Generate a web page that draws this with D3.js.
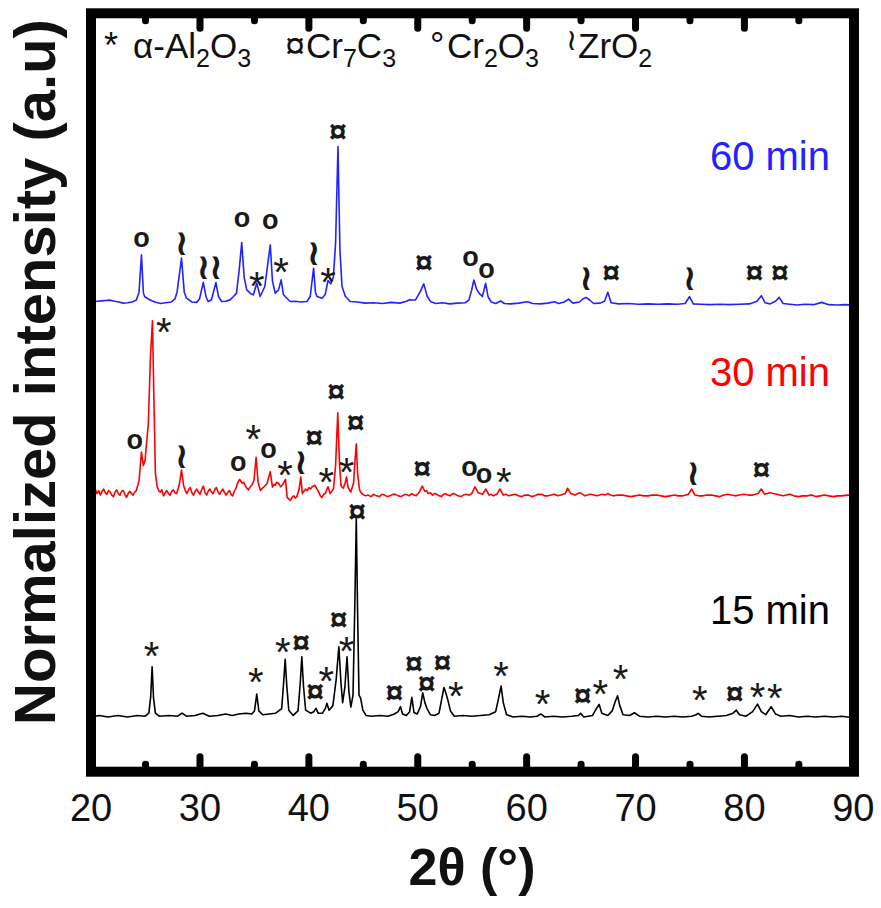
<!DOCTYPE html>
<html>
<head>
<meta charset="utf-8">
<script src="https://cdn.jsdelivr.net/npm/d3@7"></script>
<style>
  body { margin: 0; background: #fff; }
  svg { display: block; }
</style>
</head>
<body>
<svg id="chart" width="881" height="908"></svg>
<script>
// ---- axis ticks ----
const xMajorTicks = [20, 30, 40, 50, 60, 70, 80, 90];
const xMinorTicks = [25, 35, 45, 55, 65, 75, 85];

// ---- series (stacked from bottom to top) ----
const seriesNames = ["15 min", "30 min", "60 min"];
const seriesColors = ["#000000", "#ff0000", "#2222ff"];
const seriesOffsets = [6.65, 36.5, 61.44];

// [2θ, intensity above own baseline]
const pattern15 = [
  [20,0.1],[20.8,0.3],[21.6,0.1],[22.5,0.3],[23.4,0.1],[24.3,0.3],[25.0,0.2],
  [25.35,0.6],[25.52,2.8],[25.65,6.75],[25.78,2.6],[25.95,0.6],[26.3,0.2],
  [27.2,0.3],[28.0,0.2],[28.4,0.6],[28.8,0.2],[29.6,0.3],[30.3,0.6],[30.9,0.2],
  [31.7,0.3],[32.4,0.5],[33.0,0.3],[33.6,0.5],[34.3,0.6],[34.8,0.5],
  [35.05,0.9],[35.26,3.13],[35.45,0.9],[35.8,0.4],[36.4,0.5],[37.0,0.6],
  [37.55,1.2],[37.72,4.5],[37.87,7.72],[38.02,4.2],[38.2,1.0],[38.6,0.3],
  [39.05,0.9],[39.25,4.5],[39.4,8.07],[39.55,4.2],[39.75,1.0],[40.2,0.6],
  [40.5,0.8],[40.7,1.24],[40.9,0.6],[41.3,0.6],[41.55,1.2],[41.7,1.9],[41.9,1.0],
  [42.25,1.6],[42.55,5.0],[42.8,9.39],[43.0,4.5],[43.15,2.0],[43.35,4.0],
  [43.55,8.07],[43.72,3.5],[43.9,1.4],[44.1,3.0],[44.28,16.0],[44.4,26.3],
  [44.52,14.0],[44.65,3.0],[44.8,2.6],[45.0,1.0],[45.3,0.3],
  [45.8,0.2],[46.6,0.3],[47.3,0.2],[47.9,0.5],[48.25,0.8],[48.46,1.46],[48.65,0.5],
  [49.0,0.3],[49.3,0.8],[49.5,2.7],[49.7,0.7],[50.0,0.5],[50.3,1.5],[50.5,3.3],
  [50.7,2.0],[50.9,1.2],[51.2,0.4],[51.6,0.3],[52.0,0.6],[52.25,2.5],[52.45,4.0],
  [52.6,3.4],[52.8,2.4],[53.05,0.9],[53.4,0.2],[54.2,0.3],[55.0,0.2],[55.8,0.3],
  [56.6,0.4],[57.2,0.8],[57.5,2.8],[57.7,4.2],[57.9,2.0],[58.2,0.4],[58.8,0.1],
  [59.6,0.2],[60.4,0.1],[61.0,0.2],[61.35,0.5],[61.7,0.1],[62.5,0.2],[63.3,0.1],
  [64.2,0.2],[64.8,0.3],[65.0,0.58],[65.3,0.1],[66.1,0.3],[66.45,1.2],[66.7,1.77],
  [66.95,0.6],[67.5,0.3],[67.9,0.9],[68.2,2.2],[68.4,2.9],[68.6,1.6],[68.9,0.4],
  [69.5,0.3],[69.95,0.66],[70.4,0.2],[71.2,0.1],[72.0,0.2],[72.8,0.1],[73.6,0.2],
  [74.4,0.1],[75.2,0.2],[75.6,0.4],[75.8,0.58],[76.1,0.2],[76.8,0.1],[77.6,0.2],
  [78.4,0.3],[79.0,0.6],[79.3,1.0],[79.6,0.4],[80.2,0.2],[80.8,0.8],[81.25,1.8],
  [81.6,0.8],[82.0,0.4],[82.5,1.45],[82.9,0.5],[83.4,0.2],[84.2,0.3],[85.0,0.1],
  [85.8,0.2],[86.6,0.1],[87.4,0.2],[88.2,0.1],[89.0,0.2],[90,0.0]
];

const pattern30 = [
  [20,0.0],[20.15,-0.5],[20.3,-0.1],[20.45,0.3],[20.6,-0.2],[20.75,0.2],[20.9,-0.4],
  [21.05,0.1],[21.2,0.4],[21.35,-0.1],[21.5,-0.3],[21.65,0.2],[21.8,0.0],[21.95,-0.4],
  [22.1,-0.6],[22.25,0.0],[22.4,0.3],[22.55,-0.2],[22.7,-0.4],[22.85,0.1],[23.0,0.2],
  [23.15,-0.3],[23.3,-0.7],[23.45,-0.2],[23.6,0.1],[23.75,-0.2],[23.9,-0.4],[24.05,0.0],
  [24.2,0.2],[24.45,1.5],[24.67,5.3],[24.85,3.5],[25.0,4.2],[25.3,9.0],[25.5,18.0],
  [25.68,22.66],[25.82,12.0],[25.95,2.5],[26.1,0.8],[26.25,0.2],[26.4,0.0],[26.55,0.3],
  [26.7,-0.5],[26.85,-0.1],[27.0,0.2],[27.15,-0.2],[27.3,-0.4],[27.45,0.1],[27.6,0.3],
  [27.75,-0.1],[27.9,-0.2],[28.15,1.0],[28.35,2.9],[28.55,0.8],[28.7,0.2],
  [28.85,-0.2],[29.0,0.3],[29.15,0.6],[29.3,-0.1],[29.45,-0.4],[29.6,0.1],[29.75,0.4],
  [29.9,0.0],[30.05,-0.3],[30.2,0.3],[30.35,0.8],[30.5,0.0],[30.65,-0.4],[30.8,0.1],
  [30.95,0.4],[31.1,0.0],[31.25,-0.2],[31.4,0.3],[31.55,0.6],[31.7,0.0],[31.85,-0.3],
  [32.0,0.1],[32.15,0.4],[32.3,-0.1],[32.45,-0.4],[32.6,0.0],[32.75,0.2],[32.9,-0.3],
  [33.05,-0.5],[33.2,0.1],[33.35,0.5],[33.5,1.2],[33.7,1.68],[33.9,1.2],[34.05,1.3],
  [34.2,0.9],[34.35,0.5],[34.5,0.3],[34.65,0.7],[34.8,0.9],[35.0,1.5],[35.2,4.6],
  [35.38,1.3],[35.6,0.2],[35.75,0.5],[35.9,0.66],[36.05,0.9],[36.2,1.1],[36.5,2.7],
  [36.7,0.66],[36.85,1.0],[36.95,0.9],[37.1,1.3],[37.3,1.1],[37.45,0.7],[37.6,0.9],
  [37.9,1.68],[38.05,-0.7],[38.2,-0.9],[38.35,-1.1],[38.5,-0.7],[38.65,-0.5],
  [38.8,-0.8],[38.95,-0.6],[39.15,0.4],[39.3,2.0],[39.45,-0.2],[39.6,0.1],[39.75,0.4],
  [39.9,0.2],[40.05,0.6],[40.2,0.4],[40.35,0.7],[40.6,0.9],[40.8,0.4],[40.95,0.0],
  [41.1,-0.5],[41.25,-0.7],[41.4,-0.3],[41.55,-0.2],[41.8,0.7],[42.0,-0.2],[42.15,0.1],
  [42.3,0.4],[42.5,3.5],[42.7,10.5],[42.85,4.0],[43.0,0.8],[43.2,0.5],[43.38,1.2],
  [43.5,2.0],[43.65,0.6],[43.9,0.0],[44.15,1.2],[44.3,4.5],[44.4,6.35],[44.52,2.5],
  [44.7,0.3],[44.85,-0.1],[45.0,-0.3],[45.25,-0.5],[45.5,-0.4],[45.75,-0.6],[46.0,-0.3],
  [46.25,-0.5],[46.5,-0.6],[46.75,-0.3],[47.0,-0.4],[47.25,-0.6],[47.5,-0.5],
  [47.75,-0.3],[48.0,-0.3],[48.25,-0.5],[48.5,-0.6],[48.75,-0.4],[49.0,-0.3],
  [49.25,-0.5],[49.5,-0.2],[49.7,-0.4],[49.9,-0.5],[50.2,0.0],[50.45,0.8],[50.7,0.1],
  [50.85,0.2],[51.0,-0.2],[51.2,-0.1],[51.4,-0.4],[51.6,-0.2],[51.8,-0.3],[52.0,-0.5],
  [52.2,-0.6],[52.4,-0.3],[52.6,-0.2],[52.8,-0.4],[53.0,-0.5],[53.25,-0.2],[53.5,-0.3],
  [53.75,-0.5],[54.0,-0.6],[54.25,-0.4],[54.5,-0.3],[54.75,-0.4],[55.0,-0.2],
  [55.3,0.7],[55.6,-0.1],[55.8,-0.2],[56.0,-0.3],[56.3,0.4],[56.6,-0.4],[56.8,-0.3],
  [57.0,-0.5],[57.3,-0.3],[57.6,0.4],[57.9,-0.4],[58.15,-0.3],[58.4,-0.5],[58.7,-0.4],
  [59.0,-0.3],[59.3,-0.5],[59.6,-0.6],[59.9,-0.4],[60.2,-0.4],[60.5,-0.6],[60.8,-0.5],
  [61.1,-0.3],[61.4,-0.3],[61.7,-0.5],[62.0,-0.5],[62.3,-0.4],[62.6,-0.3],[62.9,-0.5],
  [63.2,-0.4],[63.6,-0.2],[63.8,0.5],[64.1,-0.2],[64.3,-0.3],[64.5,-0.4],[64.75,-0.2],
  [65.0,-0.1],[65.2,-0.3],[65.4,-0.5],[65.65,-0.4],[65.9,-0.3],[66.2,-0.4],[66.5,-0.5],
  [66.75,-0.4],[67.0,-0.3],[67.25,-0.4],[67.5,-0.2],[67.75,-0.4],[68.0,-0.5],
  [68.4,-0.4],[68.8,-0.4],[69.2,-0.5],[69.6,-0.6],[70.0,-0.5],[70.4,-0.4],[70.8,-0.5],
  [71.2,-0.5],[71.6,-0.4],[72.0,-0.4],[72.4,-0.5],[72.8,-0.6],[73.2,-0.5],[73.6,-0.4],
  [74.0,-0.5],[74.4,-0.5],[74.9,-0.3],[75.2,0.4],[75.5,-0.4],[75.85,-0.5],[76.2,-0.5],
  [76.6,-0.4],[77.0,-0.4],[77.4,-0.5],[77.8,-0.6],[78.15,-0.4],[78.5,-0.3],[78.85,-0.4],
  [79.2,-0.5],[79.6,-0.4],[80.0,-0.3],[80.4,-0.4],[80.8,-0.4],[81.3,-0.2],[81.6,0.4],
  [81.9,-0.3],[82.15,-0.2],[82.4,-0.1],[82.7,-0.2],[83.0,-0.3],[83.3,-0.4],[83.6,-0.5],
  [83.9,-0.4],[84.2,-0.3],[84.6,-0.5],[85.0,-0.6],[85.4,-0.5],[85.8,-0.5],[86.2,-0.4],
  [86.6,-0.6],[87.0,-0.5],[87.4,-0.4],[87.8,-0.5],[88.2,-0.6],[88.6,-0.5],[89.0,-0.5],
  [89.5,-0.4],[90,-0.4]
];

const pattern60 = [
  [20.0,0.2],[20.1,0.6],[20.25,0.2],[20.6,0.3],[21.0,0.35],[21.4,0.4],[21.75,0.45],
  [22.2,0.3],[22.6,0.2],[22.98,0.05],[23.4,0.1],[23.8,0.2],[24.2,0.45],[24.45,1.5],
  [24.67,6.43],[24.85,1.4],[24.97,0.9],[25.43,0.5],[25.9,0.2],[26.4,0.0],[26.9,0.1],
  [27.4,0.2],[27.75,0.6],[27.95,1.6],[28.35,6.0],[28.6,1.5],[28.81,0.7],[29.3,0.2],
  [29.73,0.15],[30.0,0.6],[30.35,2.8],[30.6,0.9],[30.8,0.26],[31.1,0.5],[31.51,2.78],
  [31.75,0.9],[32.03,0.26],[32.4,0.3],[32.8,0.48],[33.1,0.9],[33.4,1.37],[33.65,4.5],
  [33.88,8.06],[34.1,3.5],[34.34,1.8],[34.7,1.3],[34.95,1.15],[35.26,2.69],[35.57,0.93],
  [36.0,2.25],[36.25,5.0],[36.5,7.75],[36.7,3.0],[36.95,1.37],[37.26,1.8],[37.5,3.13],
  [37.7,1.2],[37.87,0.93],[38.33,0.26],[38.8,0.3],[39.3,0.2],[39.86,0.26],[40.17,0.93],
  [40.48,4.67],[40.65,1.5],[40.79,0.93],[41.25,0.7],[41.55,1.2],[41.8,3.04],[42.05,2.6],
  [42.3,3.5],[42.5,8.0],[42.72,20.75],[42.9,7.0],[43.09,2.25],[43.4,0.93],[43.86,0.26],
  [44.5,0.2],[45.2,0.05],[46.0,0.1],[46.8,0.0],[47.6,0.15],[48.4,0.05],[49.0,0.3],
  [49.3,0.5],[49.53,0.46],[49.84,0.48],[50.25,1.5],[50.6,2.6],[50.9,1.0],[51.22,0.26],
  [51.7,0.0],[52.3,0.1],[53.0,-0.05],[53.7,0.05],[54.4,0.1],[54.75,0.48],[55.0,1.8],
  [55.2,3.11],[55.45,1.9],[55.67,1.37],[55.98,0.93],[56.28,2.67],[56.5,0.9],[56.8,0.2],
  [57.2,0.0],[57.66,0.33],[58.0,0.0],[58.6,-0.05],[59.3,0.05],[60.12,0.24],[60.6,0.0],
  [61.3,-0.05],[62.0,0.05],[62.58,0.24],[63.0,0.0],[63.5,0.2],[63.9,0.59],[64.3,0.05],
  [64.9,0.2],[65.2,0.6],[65.5,0.81],[65.8,0.5],[66.2,0.0],[66.8,0.05],[67.2,0.3],
  [67.5,1.48],[67.8,0.1],[68.5,-0.05],[69.4,0.0],[70.3,-0.1],[71.2,-0.05],[72.1,-0.1],
  [73.0,-0.05],[73.9,-0.1],[74.6,0.0],[75.0,0.9],[75.35,-0.05],[76.0,-0.1],[76.9,-0.15],
  [77.8,-0.1],[78.7,-0.15],[79.6,-0.1],[80.5,-0.05],[81.2,0.3],[81.6,1.03],[81.95,0.1],
  [82.4,-0.05],[82.9,0.3],[83.24,0.81],[83.6,0.0],[84.2,-0.1],[84.9,-0.2],[85.6,-0.1],
  [86.4,-0.15],[87.14,0.15],[87.8,-0.15],[88.6,-0.2],[89.3,-0.15],[90.0,-0.2]
];

// ---- phase markers: [2θ, phase, height of marker above own baseline] ----
// A = α-Al2O3, C = Cr7C3, O = Cr2O3, Z = ZrO2
const phases15 = [
  [25.59,"A",9.4],[35.17,"A",5.95],[37.66,"A",9.84],[39.34,"C",10.05],[40.63,"C",3.66],
  [41.65,"A",6.08],[42.78,"C",13.1],[43.5,"A",10.05],[44.47,"C",27.4],[47.91,"C",3.44],
  [49.69,"C",7.3],[50.86,"C",4.6],[52.3,"C",7.4],[53.53,"A",4.1],[57.7,"A",6.75],
  [61.51,"A",3.0],[65.2,"C",3.13],[66.82,"A",4.3],[68.66,"A",6.3],[75.94,"A",3.57],
  [79.16,"C",3.3],[81.25,"A",3.9],[82.84,"A",3.76]
];
const phases30 = [
  [24.05,"O",6.65],[26.72,"A",22.3],[28.35,"Z",4.9],[33.55,"O",3.66],[34.95,"A",8.2],
  [36.33,"O",5.46],[37.85,"A",3.48],[39.3,"Z",4.1],[40.54,"C",7.3],[41.65,"A",2.47],
  [42.54,"C",13.4],[43.5,"A",3.9],[44.35,"C",9.3],[50.45,"C",3.3],[54.8,"O",3.1],
  [56.13,"O",2.1],[57.95,"A",2.5],[75.33,"Z",2.7],[81.6,"C",3.1]
];
const phases60 = [
  [24.67,"O",8.4],[28.35,"Z",8.1],[30.35,"Z",5.0],[31.5,"Z",5.0],[33.9,"O",11.0],
  [35.26,"A",3.5],[36.5,"O",10.8],[37.5,"A",5.3],[40.48,"Z",6.85],[41.8,"A",4.0],
  [42.72,"C",22.9],[50.6,"C",5.6],[54.9,"O",5.9],[56.35,"O",4.3],[65.5,"Z",3.5],
  [67.8,"C",4.2],[75.0,"Z",3.5],[80.97,"C",4.2],[83.3,"C",4.2]
];

const patterns = [pattern15, pattern30, pattern60];
const phaseMarks = [phases15, phases30, phases60];

// glyph for each phase and how it is set
const phaseGlyph = {
  A: { ch: "*", size: 40, weight: "normal", family: "Liberation Sans, Arial, sans-serif", lift: 0.575 },
  C: { ch: "\u00A4", size: 32, weight: "bold", family: "Liberation Sans, Arial, sans-serif", lift: 0.36 },
  O: { ch: "o", size: 27, weight: "bold", family: "Liberation Sans, Arial, sans-serif", lift: 0.26 },
  Z: { ch: "\u2240", size: 36, weight: "bold", family: "DejaVu Sans, sans-serif", lift: 0.36 }
};

// ---- layout ----
const svg = d3.select("#chart");
const frame = { left: 91, right: 854, top: 13.3, bottom: 771.7 };

const x = d3.scaleLinear().domain([20, 90]).range([90.6, 852.8]);
const y = d3.scaleLinear().domain([0, 100]).range([768, 12]);

// diffraction traces
const line = d3.line()
  .x(d => x(d[0]))
  .y(d => y(d[1]));

patterns.forEach((pts, i) => {
  svg.append("path")
    .datum(pts.map(p => [p[0], p[1] + seriesOffsets[i]]))
    .attr("fill", "none")
    .attr("stroke", seriesColors[i])
    .attr("stroke-width", 1.6)
    .attr("stroke-linejoin", "round")
    .attr("d", line);
});

// phase markers above peaks
phaseMarks.forEach((marks, i) => {
  svg.append("g").selectAll("text")
    .data(marks)
    .join("text")
    .attr("x", d => x(d[0]))
    .attr("y", d => y(d[2] + seriesOffsets[i]) + phaseGlyph[d[1]].lift * phaseGlyph[d[1]].size)
    .attr("text-anchor", "middle")
    .attr("font-family", d => phaseGlyph[d[1]].family)
    .attr("font-size", d => phaseGlyph[d[1]].size)
    .attr("font-weight", d => phaseGlyph[d[1]].weight)
    .attr("fill", "#1a1a1a")
    .text(d => phaseGlyph[d[1]].ch);
});

// series labels
const labelBaselines = [624, 386, 170];
seriesNames.forEach((name, i) => {
  svg.append("text")
    .attr("x", 830)
    .attr("y", labelBaselines[i])
    .attr("text-anchor", "end")
    .attr("font-family", "Liberation Sans, Arial, sans-serif")
    .attr("font-size", 40)
    .attr("fill", seriesColors[i])
    .text(name);
});

// frame
svg.append("rect")
  .attr("x", frame.left).attr("y", frame.top)
  .attr("width", frame.right - frame.left)
  .attr("height", frame.bottom - frame.top)
  .attr("fill", "none")
  .attr("stroke", "#000")
  .attr("stroke-width", 10);

// ticks, bottom and top, pointing inward
function styleTicks(g) {
  g.select(".domain").remove();
  g.selectAll(".tick line")
    .attr("stroke", "#000")
    .attr("stroke-width", 7)
    .attr("stroke-linecap", "round");
}

const bottomAxis = svg.append("g")
  .attr("transform", `translate(0,${frame.bottom})`)
  .call(d3.axisBottom(x).tickValues(xMajorTicks).tickSizeInner(-15).tickSizeOuter(0).tickPadding(22))
  .call(styleTicks);
bottomAxis.selectAll(".tick text")
  .attr("font-family", "Liberation Sans, Arial, sans-serif")
  .attr("font-size", 38)
  .attr("fill", "#111");
// end ticks sit under the frame sides
bottomAxis.selectAll(".tick").filter(d => d === 20 || d === 90).select("line").remove();

svg.append("g")
  .attr("transform", `translate(0,${frame.bottom})`)
  .call(d3.axisBottom(x).tickValues(xMinorTicks).tickSizeInner(-7.5).tickSizeOuter(0).tickFormat(""))
  .call(styleTicks);

const topAxis = svg.append("g")
  .attr("transform", `translate(0,${frame.top})`)
  .call(d3.axisTop(x).tickValues(xMajorTicks).tickSizeInner(-15).tickSizeOuter(0).tickFormat(""))
  .call(styleTicks);
topAxis.selectAll(".tick").filter(d => d === 20 || d === 90).select("line").remove();

svg.append("g")
  .attr("transform", `translate(0,${frame.top})`)
  .call(d3.axisTop(x).tickValues(xMinorTicks).tickSizeInner(-7.5).tickSizeOuter(0).tickFormat(""))
  .call(styleTicks);

// axis titles
svg.append("text")
  .attr("x", 472).attr("y", 885)
  .attr("text-anchor", "middle")
  .attr("font-family", "Liberation Sans, Arial, sans-serif")
  .attr("font-weight", "bold")
  .attr("font-size", 52)
  .attr("fill", "#111")
  .text("2\u03B8 (\u00B0)");

svg.append("text")
  .attr("transform", "translate(55,372) rotate(-90)")
  .attr("text-anchor", "middle")
  .attr("font-family", "Liberation Sans, Arial, sans-serif")
  .attr("font-weight", "bold")
  .attr("font-size", 58)
  .attr("fill", "#111")
  .text("Normalized intensity (a.u)");

// phase legend: symbol followed by formula, formula parts [text, isSubscript]
const legendEntries = [
  { sym: "*", symX: 104, nameX: 133, name: [["\u03B1-Al",0],["2",1],["O",0],["3",1]] },
  { sym: "\u00A4", symX: 285, nameX: 306, name: [["Cr",0],["7",1],["C",0],["3",1]] },
  { sym: "\u00B0", symX: 430, nameX: 447, name: [["Cr",0],["2",1],["O",0],["3",1]] },
  { sym: "\u2240", symX: 566, nameX: 578, name: [["ZrO",0],["2",1]] }
];
const legendBaseline = 58;
legendEntries.forEach(e => {
  const s = svg.append("text")
    .attr("x", e.symX).attr("y", legendBaseline)
    .attr("font-family", e.sym === "\u2240" ? "DejaVu Sans, sans-serif" : "Liberation Sans, Arial, sans-serif")
    .attr("font-size", e.sym === "\u2240" ? 30 : 36)
    .attr("fill", "#111")
    .text(e.sym);
  if (e.sym === "\u2240") s.attr("y", legendBaseline - 8);
  const t = svg.append("text")
    .attr("x", e.nameX).attr("y", legendBaseline)
    .attr("font-family", "Liberation Sans, Arial, sans-serif")
    .attr("font-size", 35)
    .attr("fill", "#111");
  let low = false;
  e.name.forEach(([txt, sub]) => {
    const ts = t.append("tspan").text(txt);
    if (sub && !low) { ts.attr("font-size", 25).attr("dy", 9); low = true; }
    else if (!sub && low) { ts.attr("dy", -9); low = false; }
  });
});
</script>
</body>
</html>
